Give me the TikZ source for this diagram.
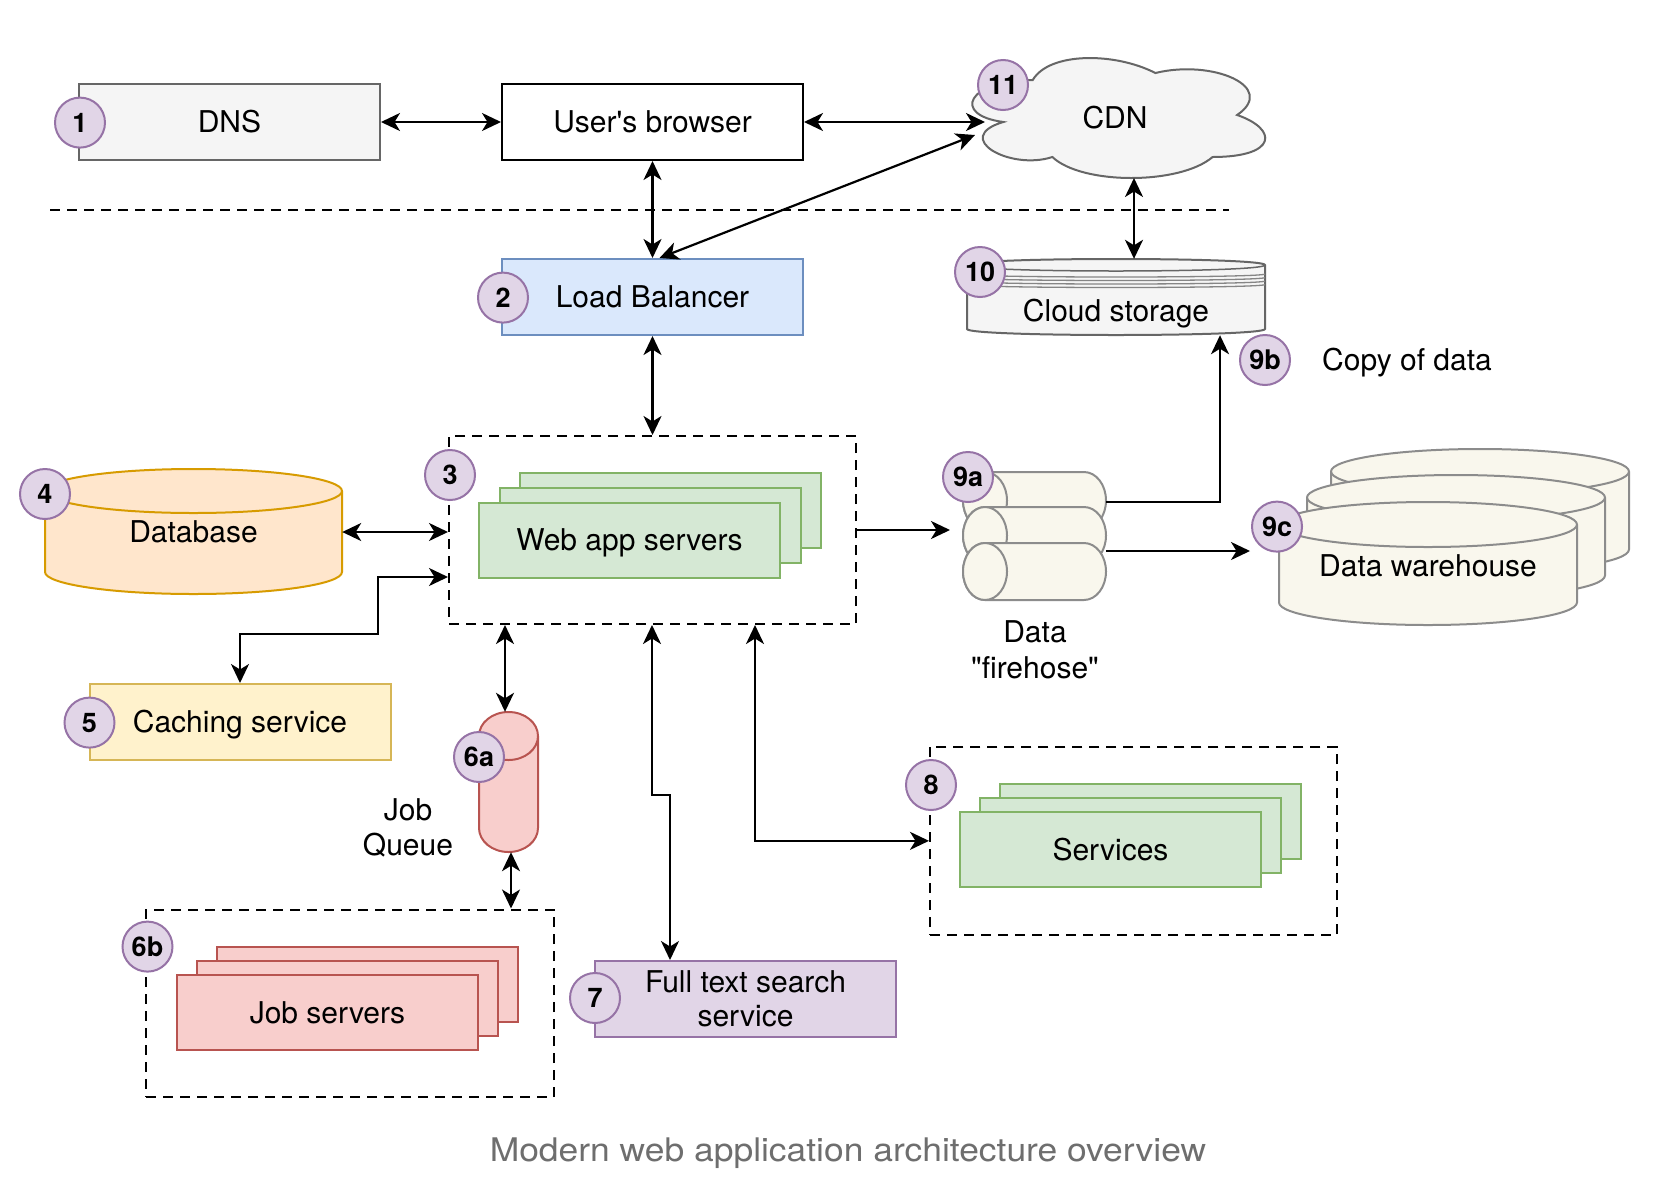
\documentclass[tikz,border=0pt]{standalone}
\usepackage{fontspec}
\setmainfont{TeX Gyre Heros}
\newfontfamily\qfont{TeX Gyre Heros}
\usepackage{graphicx}
\usetikzlibrary{arrows.meta}
\definecolor{dnsfill}{HTML}{F5F5F5}
\definecolor{dnsdraw}{HTML}{666666}
\definecolor{lbfill}{HTML}{DAE8FC}
\definecolor{lbdraw}{HTML}{6C8EBF}
\definecolor{gfill}{HTML}{D5E8D4}
\definecolor{gdraw}{HTML}{82B366}
\definecolor{rfill}{HTML}{F8CECC}
\definecolor{rdraw}{HTML}{B85450}
\definecolor{yfill}{HTML}{FFF2CC}
\definecolor{ydraw}{HTML}{D6B656}
\definecolor{ofill}{HTML}{FFE6CC}
\definecolor{odraw}{HTML}{D79B00}
\definecolor{pfill}{HTML}{E1D5E7}
\definecolor{pdraw}{HTML}{9673A6}
\definecolor{cream}{HTML}{F9F7ED}
\definecolor{creamdraw}{HTML}{8C8C8C}
\definecolor{capgray}{HTML}{6E6E6E}
\newcommand\mainfnt{\fontsize{30}{34.5}\selectfont}
\newcommand\badgefnt{\fontsize{27}{30}\selectfont\bfseries}
\newcommand\capfnt{\fontsize{32.5}{38}\selectfont}
% vertical cylinder: x0, y0(top), w, h, ry, options
\newcommand\cylV[6]{%
 \pgfmathsetmacro\cyxa{#1}\pgfmathsetmacro\cyxb{#1+#3}\pgfmathsetmacro\cyxm{#1+#3/2}%
 \pgfmathsetmacro\cyrx{#3/2}\pgfmathsetmacro\cyyt{#2+#5}\pgfmathsetmacro\cyyb{#2+#4-#5}%
 \path[#6] (\cyxa,\cyyt) -- (\cyxa,\cyyb)
   .. controls (\cyxa,\cyyb+0.5523*#5) and (\cyxm-0.5523*\cyrx,\cyyb+#5) .. (\cyxm,\cyyb+#5)
   .. controls (\cyxm+0.5523*\cyrx,\cyyb+#5) and (\cyxb,\cyyb+0.5523*#5) .. (\cyxb,\cyyb)
   -- (\cyxb,\cyyt)
   .. controls (\cyxb,\cyyt-0.5523*#5) and (\cyxm+0.5523*\cyrx,\cyyt-#5) .. (\cyxm,\cyyt-#5)
   .. controls (\cyxm-0.5523*\cyrx,\cyyt-#5) and (\cyxa,\cyyt-0.5523*#5) .. (\cyxa,\cyyt) -- cycle;
 \path[#6,fill=none] (\cyxa,\cyyt)
   .. controls (\cyxa,\cyyt+0.5523*#5) and (\cyxm-0.5523*\cyrx,\cyyt+#5) .. (\cyxm,\cyyt+#5)
   .. controls (\cyxm+0.5523*\cyrx,\cyyt+#5) and (\cyxb,\cyyt+0.5523*#5) .. (\cyxb,\cyyt);
}
% horizontal cylinder with visible cap on the left: x0, y0, w, h, rx, options
\newcommand\cylH[6]{%
 \pgfmathsetmacro\cyxa{#1+#5}\pgfmathsetmacro\cyxb{#1+#3-#5}%
 \pgfmathsetmacro\cyym{#2+#4/2}\pgfmathsetmacro\cyry{#4/2}\pgfmathsetmacro\cyyb{#2+#4}%
 \path[#6] (\cyxa,#2) -- (\cyxb,#2)
   .. controls (\cyxb+0.5523*#5,#2) and (\cyxb+#5,\cyym-0.5523*\cyry) .. (\cyxb+#5,\cyym)
   .. controls (\cyxb+#5,\cyym+0.5523*\cyry) and (\cyxb+0.5523*#5,\cyyb) .. (\cyxb,\cyyb)
   -- (\cyxa,\cyyb)
   .. controls (\cyxa-0.5523*#5,\cyyb) and (\cyxa-#5,\cyym+0.5523*\cyry) .. (\cyxa-#5,\cyym)
   .. controls (\cyxa-#5,\cyym-0.5523*\cyry) and (\cyxa-0.5523*#5,#2) .. (\cyxa,#2) -- cycle;
 \path[#6] (\cyxa,\cyym) ellipse [x radius=#5, y radius=\cyry];
}
\begin{document}
\begin{tikzpicture}[x=1pt,y=-1pt,
  box/.style={draw, line width=2pt, minimum width=301pt, minimum height=76pt, inner sep=0pt, font=\mainfnt},
  one/.style={text height=21.5pt, text depth=0pt},
  dashbox/.style={draw, line width=2pt, dash pattern=on 10pt off 7pt, inner sep=0pt},
  badge/.style={circle, draw=pdraw, fill=pfill, line width=2pt, minimum size=50pt, inner sep=0pt, font=\badgefnt, text height=19.4pt, text depth=0pt},
  conn/.style={line width=2.2pt, {Stealth[length=19pt,width=18pt,inset=5.5pt]}-{Stealth[length=19pt,width=18pt,inset=5.5pt]}},
  conn1/.style={line width=2.2pt, -{Stealth[length=19pt,width=18pt,inset=5.5pt]}},
  lbl/.style={font=\mainfnt, inner sep=0pt, align=center},
  ghost/.style={inner sep=0pt, font=\mainfnt, align=center},
  gstack/.style={draw=gdraw, fill=gfill, line width=2pt},
  rstack/.style={draw=rdraw, fill=rfill, line width=2pt},
  creamcyl/.style={draw=creamdraw, fill=cream, line width=2pt},
]
\useasboundingbox (0,0) rectangle (1670,1200);
\fill[white] (0,0) rectangle (1670,1200);

% separator
\draw[line width=2pt, dash pattern=on 10pt off 7pt] (50,209.5) -- (1229,209.5);

% top row
\node[box, one, fill=dnsfill, draw=dnsdraw] (dns) at (229.5,122) {DNS};
\node[box, one, fill=white, draw=black] (browser) at (652.5,122) {{\qfont User's browser}};

% CDN cloud
\path[fill=dnsfill, draw=dnsdraw, line width=2pt] (1032.75,80)
  .. controls (967.35,80) and (951,115) .. (1003.32,122)
  .. controls (951,137.4) and (1009.86,171) .. (1052.37,157)
  .. controls (1081.8,185) and (1179.9,185) .. (1212.6,157)
  .. controls (1278,157) and (1278,129) .. (1237.125,115)
  .. controls (1278,87) and (1212.6,59) .. (1155.375,73)
  .. controls (1114.5,52) and (1049.1,52) .. (1032.75,80) -- cycle;
\node[ghost, one] (cdn) at (1115,118) {CDN};

% load balancer
\node[box, one, fill=lbfill, draw=lbdraw] (lb) at (652.5,297) {Load Balancer};

% cloud storage
\path[fill=dnsfill, draw=dnsdraw, line width=2pt] (967,265) .. controls (967,257) and (1265,257) .. (1265,265)
  -- (1265,329) .. controls (1265,337) and (967,337) .. (967,329) -- cycle;
\foreach \yy in {274,277.5,281,284.5}
  \draw[dnsdraw!80, line width=1.3pt] (967,\yy) .. controls (967,\yy+4) and (1265,\yy+4) .. (1265,\yy);
\draw[dnsdraw, line width=1.5pt] (967,265) .. controls (967,273) and (1265,273) .. (1265,265);
\node[minimum width=298pt, minimum height=76pt, inner sep=0pt] (store) at (1116,297) {};
\node[ghost, one] (storetxt) at (1116,311) {Cloud storage};

% web app container
\node[dashbox, minimum width=407pt, minimum height=188pt] (web) at (652.5,530) {};
\draw[gstack] (520,473) rectangle ++(301,75);
\draw[gstack] (500,487.5) rectangle ++(301,75);
\node[box, one, fill=gfill, draw=gdraw, minimum height=75pt] (webapp) at (629.5,540) {Web app servers};

% database
\cylV{45}{469}{297}{125}{22}{fill=ofill, draw=odraw, line width=2pt}
\node[ghost, one, minimum width=297pt] (db) at (193.5,532) {Database};

% caching
\node[box, one, fill=yfill, draw=ydraw] (cache) at (240,722) {Caching service};

% job queue
\cylV{479}{712}{59}{140}{24}{fill=rfill, draw=rdraw, line width=2pt}
\node[minimum width=59pt, minimum height=140pt, inner sep=0pt] (queue) at (508.5,782) {};
\node[lbl] (jqtxt) at (408,828) {Job\\Queue};

% job servers
\node[dashbox, minimum width=408pt, minimum height=187.5pt] (jobc) at (350,1003.25) {};
\draw[rstack] (217,947) rectangle ++(301,75);
\draw[rstack] (197,961) rectangle ++(301,75);
\node[box, one, fill=rfill, draw=rdraw, minimum height=75pt] (jobs) at (327.5,1012.5) {Job servers};

% full text search
\node[box, fill=pfill, draw=pdraw, align=center, font=\fontsize{30}{34}\selectfont] (fts) at (745.5,999) {Full text search\\service};

% services
\node[dashbox, minimum width=407pt, minimum height=188.3pt] (svc) at (1133.5,840.85) {};
\draw[gstack] (1000,784) rectangle ++(301,75);
\draw[gstack] (980,797.5) rectangle ++(301,75);
\node[box, one, fill=gfill, draw=gdraw, minimum height=75pt] (services) at (1110.5,849.5) {Services};

% data firehose
\cylH{963}{472}{143}{57}{22}{creamcyl}
\cylH{963}{507}{143}{57}{22}{creamcyl}
\cylH{963}{543}{143}{57}{22}{creamcyl}
\node[minimum width=143pt, minimum height=128pt, inner sep=0pt] (fire) at (1034.5,536) {};
\node[lbl, font=\fontsize{30}{35.5}\selectfont] (firetxt) at (1035,650) {Data\\{\qfont "firehose"}};

% data warehouse
\cylV{1331}{449}{298}{123}{22.5}{creamcyl}
\cylV{1307}{475}{298}{123}{22.5}{creamcyl}
\cylV{1279}{502}{298}{123}{22.5}{creamcyl}
\node[ghost, one, minimum width=298pt] (dw) at (1428,566) {Data warehouse};

\node[lbl, one, anchor=west] (copy) at (1322,360) {Copy of data};

% helper coordinates
\coordinate (cacheY) at (0,577);
\coordinate (cacheBend) at (378,634);
\coordinate (x652) at (652,0);
\coordinate (x670) at (670,0);
\coordinate (jog) at (0,794.6);
\coordinate (x755) at (755,0);
\coordinate (qx1) at (505,0);
\coordinate (qx2) at (511,0);
\coordinate (fireIn) at (950,530);
\coordinate (fireTop) at (1106,501.7);
\coordinate (x1220) at (1220,0);
\coordinate (fireBot) at (1106,551);
\coordinate (dwIn) at (1250,551);
\coordinate (cdnIn) at (985,122);
\coordinate (cdnIn2) at (975,135);
\coordinate (cdnBot) at (1134,178);
\coordinate (dbY) at (0,532);

% connectors
\draw[conn] (dns.east) -- (browser.west);
\draw[conn] (browser.east) -- (cdnIn);
\draw[conn] (browser.south) -- (lb.north);
\draw[conn] ([xshift=7pt]lb.north) -- (cdnIn2);
\draw[conn] (cdnBot) -- (cdnBot |- store.north);
\draw[conn] (lb.south) -- (web.north);
\draw[conn] (db.east |- dbY) -- (web.west |- dbY);
\draw[conn] (cache.north) |- (cacheBend) |- (web.west |- cacheY);
\draw[conn] (web.south -| qx1) -- (queue.north -| qx1);
\draw[conn] (queue.south -| qx2) -- (jobc.north -| qx2);
\draw[conn] (web.south -| x652) -- (x652 |- jog) -- (x670 |- jog) -- (fts.north -| x670);
\draw[conn] (web.south -| x755) |- (svc.west);
\draw[conn1] (web.east) -- (fireIn);
\draw[conn1] (fireTop) -| (store.south -| x1220);
\draw[conn1] (fireBot) -- (dwIn);

% badges
\node[badge] (b1) at (80,122.6) {1};
\node[badge] (b2) at (503,297.6) {2};
\node[badge] (b3) at (450,475) {3};
\node[badge] (b4) at (45,494) {4};
\node[badge] (b5) at (89.5,722.6) {5};
\node[badge] (b6a) at (479,757) {6a};
\node[badge] (b6b) at (147.5,946.6) {6b};
\node[badge] (b7) at (595,998) {7};
\node[badge] (b8) at (931,785) {8};
\node[badge] (b9a) at (968,477) {9a};
\node[badge] (b9b) at (1265,360) {9b};
\node[badge] (b9c) at (1277,526.6) {9c};
\node[badge] (b10) at (980,272) {10};
\node[badge] (b11) at (1003,85) {11};

% caption
\node[font=\capfnt, text=capgray, inner sep=0pt, text height=23.3pt, text depth=0pt] (cap) at (848,1150) {\scalebox{1.09}[1]{Modern web application architecture overview}};
\end{tikzpicture}
\end{document}
